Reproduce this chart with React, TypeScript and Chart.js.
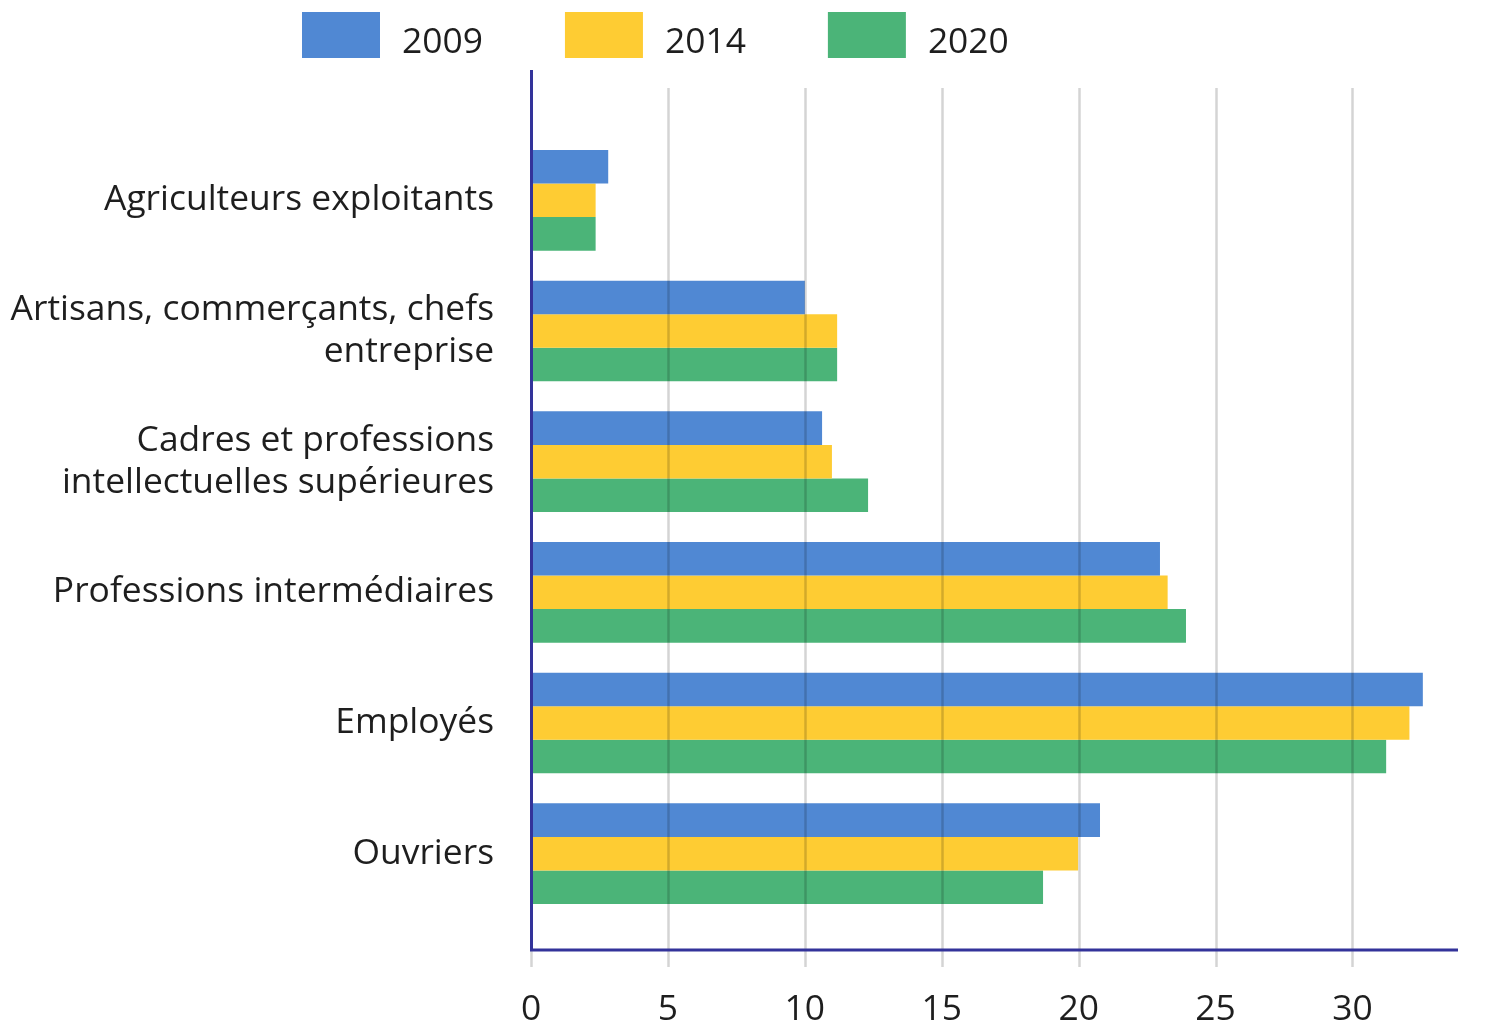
import React, { useEffect, useRef } from 'react';
import { Chart, registerables } from 'chart.js';

Chart.register(...registerables);

const categories: string[][] = [
  ['Agriculteurs exploitants'],
  ['Artisans, commerçants, chefs', 'entreprise'],
  ['Cadres et professions', 'intellectuelles supérieures'],
  ['Professions intermédiaires'],
  ['Employés'],
  ['Ouvriers'],
];
const seriesLabels = ['2009', '2014', '2020'];
const values2009 = [2.82, 10.0, 10.63, 22.97, 32.57, 20.78];
const values2014 = [2.36, 11.18, 10.99, 23.25, 32.08, 19.98];
const values2020 = [2.36, 11.18, 12.31, 23.92, 31.23, 18.7];
const seriesColors = ['#5088d3', '#fecc33', '#4bb478'];
const xMin = 0;
const xMax = 34;
const xStep = 5;

const FONT = "'Open Sans', 'Noto Sans', sans-serif";
const FONT_SIZE = 35.4;

const decorPlugin = {
  id: 'decor',
  afterDatasetsDraw(chart: any) {
    const { ctx, chartArea } = chart;
    const x = chart.scales.x;
    ctx.save();
    ctx.strokeStyle = 'rgba(0,0,0,0.17)';
    ctx.lineWidth = 2.5;
    x.ticks.forEach((t: any) => {
      const px = Math.round(x.getPixelForValue(t.value)) + 0.5;
      ctx.beginPath();
      ctx.moveTo(px, chartArea.top - 47);
      ctx.lineTo(px, chartArea.bottom + 48);
      ctx.stroke();
    });
    ctx.strokeStyle = '#33339a';
    ctx.lineWidth = 3;
    const x0 = Math.round(x.getPixelForValue(0)) + 0.5;
    const yb = chartArea.bottom + 31;
    ctx.beginPath();
    ctx.moveTo(x0, chartArea.top - 65);
    ctx.lineTo(x0, yb);
    ctx.lineTo(chartArea.right - 4, yb);
    ctx.stroke();
    ctx.restore();
  },
  afterDraw(chart: any) {
    const { ctx } = chart;
    ctx.save();
    ctx.font = `${FONT_SIZE}px ${FONT}`;
    ctx.textBaseline = 'alphabetic';
    ctx.textAlign = 'left';
    let xPos = 302;
    chart.data.datasets.forEach((ds: any) => {
      ctx.fillStyle = ds.backgroundColor;
      ctx.fillRect(xPos, 12, 78, 46);
      ctx.fillStyle = '#1e1e1e';
      ctx.fillText(ds.label, xPos + 100, 53);
      const w = ctx.measureText(ds.label).width;
      xPos += 78 + 22 + w + 82;
    });
    ctx.restore();
  },
};

export default function App() {
  const ref = useRef<HTMLCanvasElement | null>(null);
  useEffect(() => {
    if (!ref.current) return;
    const series = [values2009, values2014, values2020];
    const chart = new Chart(ref.current, {
      type: 'bar',
      data: {
        labels: categories,
        datasets: series.map((vals, i) => ({
          label: seriesLabels[i],
          data: vals,
          backgroundColor: seriesColors[i],
          borderWidth: 0,
          categoryPercentage: 0.77,
          barPercentage: 1.0,
        })),
      },
      options: {
        indexAxis: 'y',
        animation: false,
        responsive: true,
        maintainAspectRatio: false,
        layout: { padding: { top: 135, left: 0, right: 47, bottom: 0 } },
        plugins: {
          legend: { display: false },
          tooltip: { enabled: false },
        },
        scales: {
          x: {
            type: 'linear',
            min: xMin,
            max: xMax,
            grid: { display: false, drawTicks: false },
            border: { display: false },
            ticks: {
              stepSize: xStep,
              includeBounds: false,
              padding: 70,
              color: '#1e1e1e',
              font: { family: FONT, size: FONT_SIZE },
              maxRotation: 0,
            },
            afterFit: (s: any) => {
              s.height = 109;
            },
          },
          y: {
            type: 'category',
            grid: { display: false, drawTicks: false },
            border: { display: false },
            ticks: {
              padding: 37,
              color: '#1e1e1e',
              font: { family: FONT, size: FONT_SIZE, lineHeight: 1.18 },
            },
            afterFit: (s: any) => {
              s.width = 531;
            },
          },
        },
      },
      plugins: [decorPlugin],
    });
    return () => chart.destroy();
  }, []);
  return (
    <div style={{ position: 'absolute', left: 0, top: 0, width: 1509, height: 1028 }}>
      <canvas ref={ref} />
    </div>
  );
}
